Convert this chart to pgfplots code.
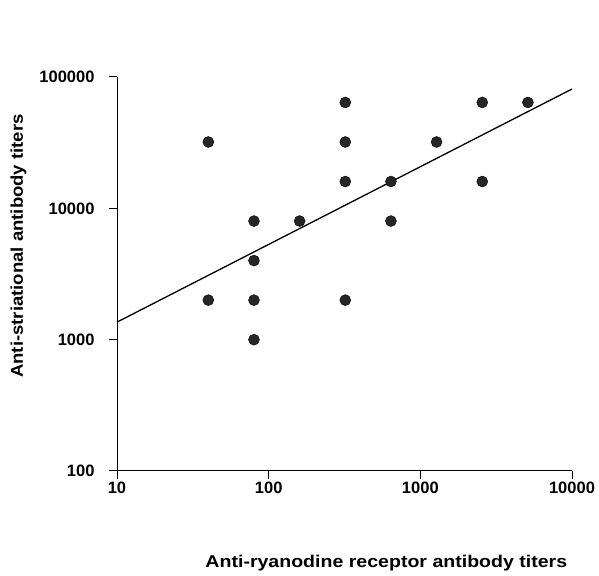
\documentclass[border=0pt]{standalone}
\usepackage{fontspec}
\setmainfont{Liberation Sans}
\newfontfamily\xlabfont[FakeStretch=1.15]{Liberation Sans}
\newfontfamily\ylabfont[FakeStretch=1.09]{Liberation Sans}
\usepackage{pgfplots}
\pgfplotsset{compat=1.18}
\begin{document}
\begin{tikzpicture}
\useasboundingbox (-117pt,-104pt) rectangle (482pt,471pt);
\begin{axis}[
    at={(0,0)}, anchor=south west,
    scale only axis, width=455pt, height=394pt,
    xmode=log, ymode=log,
    xmin=10, xmax=10000, ymin=100, ymax=100000,
    axis lines*=left,
    axis line style={line width=1pt},
    xtick={10,100,1000,10000}, xticklabels={10,100,1000,10000},
    ytick={100,1000,10000,100000}, yticklabels={100,1000,10000,100000},
    minor tick length=0pt,
    tick align=outside, major tick length=8pt,
    tick style={line width=1pt, black},
    /pgf/number format/assume math mode=true,
    ticklabel style={font=\fontsize{16.5}{18}\selectfont\bfseries},
    xticklabel style={yshift=1pt},
    yticklabel style={xshift=-11pt},
    xlabel={\xlabfont\bfseries Anti-ryanodine receptor antibody titers},
    ylabel={\ylabfont\bfseries Anti-striational antibody titers},
    label style={font=\fontsize{17}{19}\selectfont},
    xlabel style={at={(axis description cs:0.592,0)}, anchor=base, yshift=-97pt},
    ylabel style={at={(axis description cs:-0.2066,0.571)}, anchor=base},
    clip=false
]
\addplot[only marks, mark=*, mark size=5.5pt, mark options={fill=black!85, draw=black}] coordinates {
    (40,32000) (40,2000)
    (80,8000) (80,4000) (80,2000) (80,1000)
    (160,8000)
    (320,64000) (320,32000) (320,16000) (320,2000)
    (640,16000) (640,8000)
    (1280,32000)
    (2560,64000) (2560,16000)
    (5120,64000)
};
\addplot[black, line width=1.3pt] coordinates {(10,1360) (10000,81000)};
\end{axis}
\end{tikzpicture}
\end{document}
